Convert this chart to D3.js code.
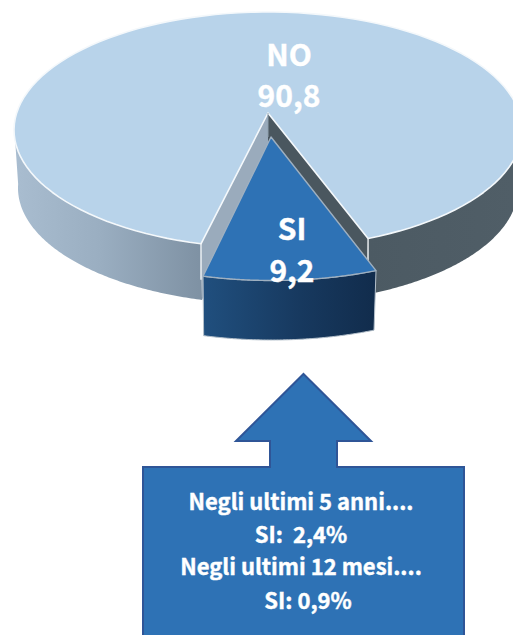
<!DOCTYPE html>
<html><head><meta charset="utf-8">
<script src="https://cdn.jsdelivr.net/npm/d3@7"></script>
<style>html,body{margin:0;padding:0;background:#fff}svg{display:block}text{font-family:"Noto Sans CJK SC","Noto Sans",sans-serif;font-weight:700;fill:#fff;stroke:#fff;stroke-width:.4px;text-anchor:middle}</style>
</head><body><svg id="c" width="513" height="635"></svg>
<script>
const categories = ["NO", "SI"];
const seriesValues = [90.8, 9.2];
const valueLabels = ["90,8", "9,2"];
const calloutLines = ["Negli ultimi 5 anni....", "SI:  2,4%", "Negli ultimi 12 mesi....", "SI: 0,9%"];

const deg = Math.PI / 180;
const svg = d3.select("#c");
const defs = svg.append("defs");
function grad(id, stops) {
  const g = defs.append("linearGradient").attr("id", id).attr("gradientUnits", "userSpaceOnUse")
    .attr("x1", stops[0][0]).attr("x2", stops[stops.length - 1][0]).attr("y1", 0).attr("y2", 0);
  stops.forEach(s => g.append("stop")
    .attr("offset", (s[0] - stops[0][0]) / (stops[stops.length - 1][0] - stops[0][0]))
    .attr("stop-color", s[1]));
}
grad("wallL", [[14, "#a9bdd0"], [100, "#9aaec1"], [202, "#7e91a3"]]);
grad("wallR", [[368, "#4c5a63"], [513, "#505e67"]]);
grad("wallS", [[203, "#204f7e"], [300, "#17395f"], [376, "#112c4c"]]);

const start = 195.3 * deg;
const arcs = d3.pie().sort(null).value(d => d).startAngle(start).endAngle(start + 2 * Math.PI)(seriesValues);
const no = arcs[0], si = arcs[1];
// perspective: pie angle -> angle on the drawn ellipse
const persp = d3.scaleLinear().domain([no.startAngle, no.endAngle, si.endAngle])
  .range([start, 516.8 * deg, start + 2 * Math.PI]);

const ell = (e, a) => [e.cx + e.rx * Math.sin(a), e.cy - e.ry * Math.cos(a)];
const sample = (e, a0, a1) => d3.range(0, 121).map(i => ell(e, a0 + (a1 - a0) * i / 120));
const line = d3.line();

const top0 = { cx: 268, cy: 130, rx: 254, ry: 118 };
const bot0 = { cx: 268, cy: 188, rx: 250, ry: 116 };
const apexN = [268, 113], apexNb = [268, 172];
const top1 = { cx: 272.4, cy: 158.5, rx: 263, ry: 122 };
const bot1 = { cx: 272, cy: 218, rx: 259, ry: 122 };
const apexS = [271, 137];

const a0 = persp(no.startAngle), a1 = persp(no.endAngle), a2 = persp(si.endAngle);

// NO outer walls
svg.append("path").attr("fill", "url(#wallL)")
  .attr("d", line([...sample(top0, a0, 272 * deg), ...sample(bot0, 272 * deg, a0)]) + "Z");
svg.append("path").attr("fill", "url(#wallR)")
  .attr("d", line([...sample(top0, a1, 450 * deg), ...sample(bot0, 450 * deg, a1)]) + "Z");
// NO cut walls
const pA0 = ell(top0, a0), pA1 = ell(top0, a1), pB0 = ell(bot0, a0), pB1 = ell(bot0, a1);
svg.append("path").attr("fill", "#9aabbc").attr("d", line([apexN, pA0, pB0, apexNb]) + "Z");
svg.append("path").attr("fill", "#4a575f").attr("d", line([apexN, pA1, pB1, apexNb]) + "Z");
// NO top
svg.append("path").attr("fill", "#b8d3ea").attr("stroke", "#f4f8fb").attr("stroke-width", 1.6).attr("stroke-linejoin", "round")
  .attr("d", line([apexN, ...sample(top0, a0, a1)]) + "Z");
// wall separators
svg.append("path").attr("fill", "none").attr("stroke", "#eef2f5").attr("stroke-width", 1.4)
  .attr("d", line([pA0, [pA0[0], pA0[1] + 36]]));
svg.append("path").attr("fill", "none").attr("stroke", "#eef2f5").attr("stroke-width", 1.4)
  .attr("d", line([pA1, [pA1[0], pA1[1] + 32]]));
svg.append("path").attr("fill", "none").attr("stroke", "#8fa0ae").attr("stroke-width", 1)
  .attr("d", line([apexN, [apexN[0], apexN[1] + 24]]));

// SI side and top
svg.append("path").attr("fill", "url(#wallS)").attr("stroke", "#b4c0cb").attr("stroke-width", 1)
  .attr("d", line([...sample(top1, a1, a2), ...sample(bot1, a2, a1)]) + "Z");
svg.append("path").attr("fill", "#2e72b5").attr("stroke", "#9fb0c0").attr("stroke-width", 1.4).attr("stroke-linejoin", "round")
  .attr("d", line([apexS, ...sample(top1, a1, a2)]) + "Z");

// labels
const labelPos = [[289, 55, 96], [292, 229, 271]];
categories.forEach((c, i) => {
  svg.append("text").attr("x", labelPos[i][0]).attr("y", labelPos[i][1]).attr("dy", "0.36em").attr("font-size", 30).text(c);
  svg.append("text").attr("x", labelPos[i][0]).attr("y", labelPos[i][2]).attr("dy", "0.36em").attr("font-size", 30).text(valueLabels[i]);
});

// callout arrow
svg.append("path").attr("fill", "#2e72b5").attr("stroke", "#2f5597").attr("stroke-width", 2).attr("stroke-linejoin", "miter")
  .attr("d", line([[303.5, 374], [371, 441], [337, 441], [337, 467], [464, 467], [464, 640], [143, 640], [143, 467], [270, 467], [270, 441], [236, 441]]) + "Z");
const calloutY = [502, 535, 567, 601], calloutX = [301, 301, 301, 308];
calloutLines.forEach((t, i) => {
  svg.append("text").attr("x", calloutX[i]).attr("y", calloutY[i]).attr("dy", "0.36em").attr("font-size", 22)
    .attr("xml:space", "preserve").style("white-space", "pre").text(t);
});
</script></body></html>
